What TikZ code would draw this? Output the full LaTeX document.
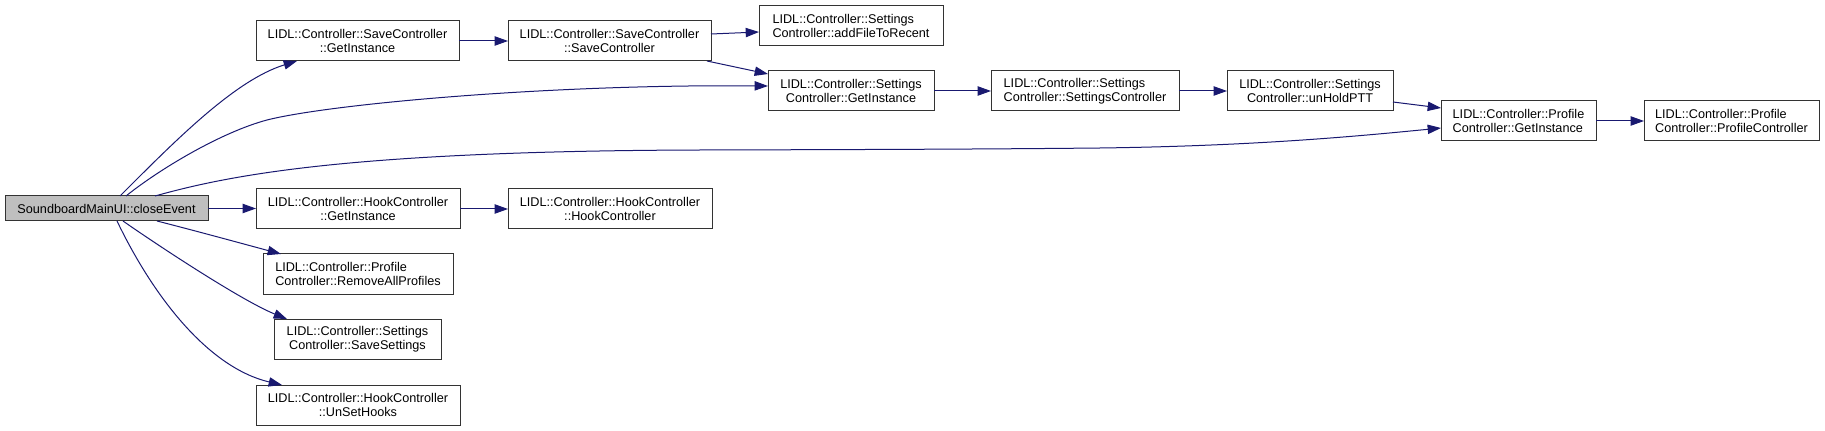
\documentclass[tikz,border=0pt]{standalone}
\usepackage{fontspec}
\setmainfont{Liberation Sans}
\usetikzlibrary{arrows.meta,calc}
\definecolor{edgeblue}{HTML}{191970}
\definecolor{boxline}{HTML}{333333}
\definecolor{boxgray}{HTML}{BFBFBF}
\begin{document}
\begin{tikzpicture}[x=0.75pt,y=-0.75pt,
  box/.style={draw=boxline, line width=0.75pt, fill=white, inner sep=0pt, outer sep=0pt,
    font=\fontsize{9.5}{10.5}\selectfont, align=center},
  lbox/.style={box, align=left},
  sz/.style 2 args={minimum width=#1*0.75pt, minimum height=#2*0.75pt},
  edge/.style={draw=edgeblue, line width=0.75pt, -{Triangle[length=10pt,width=7pt]}}]
\useasboundingbox (0,0) rectangle (1825,431);

% nodes
\node[box, fill=boxgray, sz={203}{25}] (ce) at (106.5,208.5) {SoundboardMainUI::closeEvent};
\node[box, sz={203}{40}] (sgi) at (357.5,41) {LIDL::Controller::SaveController\\::GetInstance};
\node[box, sz={203}{40}] (ssc) at (609.5,41) {LIDL::Controller::SaveController\\::SaveController};
\node[lbox, sz={184}{40}] (afr) at (851,26) {LIDL::Controller::Settings\\Controller::addFileToRecent};
\node[box, sz={166}{40}] (setgi) at (851,91) {LIDL::Controller::Settings\\Controller::GetInstance};
\node[lbox, sz={188}{40}] (setsc) at (1085,91) {LIDL::Controller::Settings\\Controller::SettingsController};
\node[box, sz={166}{40}] (uhp) at (1310,91) {LIDL::Controller::Settings\\Controller::unHoldPTT};
\node[lbox, sz={155}{40}] (pgi) at (1518.5,121) {LIDL::Controller::Profile\\Controller::GetInstance};
\node[lbox, sz={175}{40}] (ppc) at (1731.5,121) {LIDL::Controller::Profile\\Controller::ProfileController};
\node[box, sz={204}{40}] (hgi) at (358,209) {LIDL::Controller::HookController\\::GetInstance};
\node[box, sz={204}{40}] (hhc) at (610,209) {LIDL::Controller::HookController\\::HookController};
\node[lbox, sz={190}{40}] (rap) at (358,274) {LIDL::Controller::Profile\\Controller::RemoveAllProfiles};
\node[box, sz={167}{40}] (ss) at (357.5,339) {LIDL::Controller::Settings\\Controller::SaveSettings};
\node[box, sz={204}{40}] (ush) at (358,405) {LIDL::Controller::HookController\\::UnSetHooks};

% curved edges from closeEvent
\draw[edge] ($(ce.north west)+(115,0)$) .. controls (175,141) and (235,80) .. ($(sgi.south west)+(41,0)$);
\draw[edge] ($(ce.north west)+(121,0)$) .. controls (161,168) and (222,132) .. (267,120)
  .. controls (330,104) and (550,84) .. ($(setgi.west)+(0,-5)$);
\draw[edge] ($(ce.north west)+(150,0)$) .. controls (230,175) and (350,151) .. (700,150)
  .. controls (900,149.5) and (1000,149) .. (1100,148)
  .. controls (1250,146) and (1350,137) .. ($(pgi.west)+(0,7)$);
\draw[edge] (ce.east) -- (ce.east -| hgi.west);
\draw[edge] ($(ce.south west)+(152,0)$) .. controls (200,232) and (240,243) .. ($(rap.north west)+(18,0)$);
\draw[edge] ($(ce.south west)+(118,0)$) .. controls (150,240) and (240,300) .. ($(ss.north west)+(13,0)$);
\draw[edge] ($(ce.south west)+(112,0)$) .. controls (155,300) and (210,368) .. ($(ush.north west)+(26,0)$);

% straight edges
\draw[edge] (sgi) -- (ssc);
\draw[edge] ($(ssc.east)+(0,-7)$) -- ($(afr.west)+(0,6)$);
\draw[edge] ($(ssc.south east)+(-4,0)$) -- ($(setgi.north west)+(0,3)$);
\draw[edge] (setgi) -- (setsc);
\draw[edge] (setsc) -- (uhp);
\draw[edge] ($(uhp.east)+(0,11)$) -- ($(pgi.west)+(0,-13)$);
\draw[edge] (pgi) -- (ppc);
\draw[edge] (hgi) -- (hhc);
\end{tikzpicture}
\end{document}
